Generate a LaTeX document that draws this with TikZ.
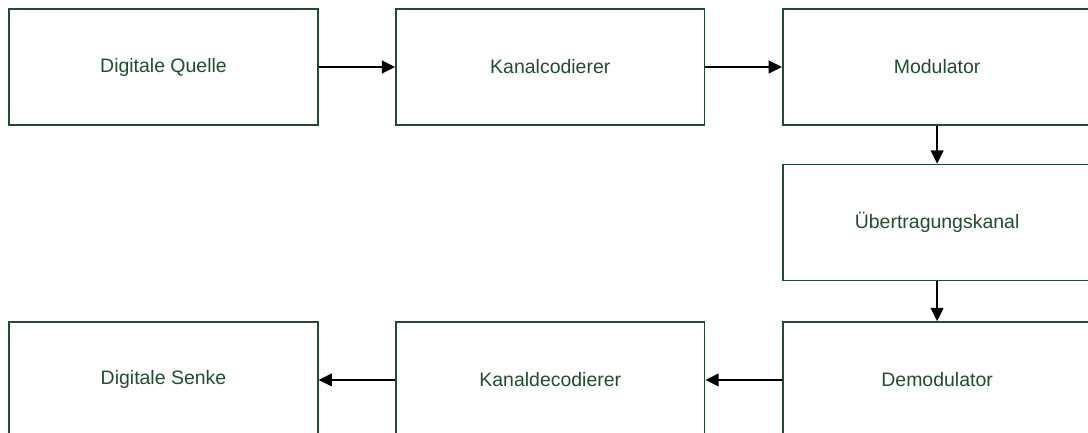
\documentclass[tikz,border=0pt]{standalone}
\usepackage{fontspec}
\setmainfont{Liberation Sans}
\usepackage{tikz}
\usetikzlibrary{positioning, arrows.meta}

\definecolor{dunkelgruen}{RGB}{30,78,48}

\begin{document}
\begin{tikzpicture}[x=0.75pt, y=-0.75pt, >={Triangle[length=10pt, width=9.5pt]},
		block/.style={draw=dunkelgruen, line width=1.1pt, text=dunkelgruen,
			minimum width=231.5pt, minimum height=87pt, inner sep=0pt,
			font=\fontsize{14.6}{17}\selectfont},
		pfeil/.style={->, line width=1.3pt, black}]
			\useasboundingbox (0,0) rectangle (1088,432);
			
			% Sendeseite
			\node[block] (quelle) at (163.5,67) {Digitale Quelle};
			\node[block, right=57.5pt of quelle] (codierer) {Kanalcodierer};
			\node[block, right=57.5pt of codierer] (modulator) {Modulator};
			
			% Kanal
			\node[block, below=28.5pt of modulator] (kanal) {Übertragungskanal};
			
			% Empfangsseite
			\node[block, below=30pt of kanal] (demodulator) {Demodulator};
			\node[block, left=57.5pt of demodulator] (decodierer) {Kanaldecodierer};
			\node[block, left=57.5pt of decodierer] (senke) {Digitale Senke};
			
			% Verbindungen
			\draw[pfeil] (quelle) -- (codierer);
			\draw[pfeil] (codierer) -- (modulator);
			\draw[pfeil] (modulator) -- (kanal);
			\draw[pfeil] (kanal) -- (demodulator);
			\draw[pfeil] (demodulator) -- (decodierer);
			\draw[pfeil] (decodierer) -- (senke);
		\end{tikzpicture}
\end{document}
